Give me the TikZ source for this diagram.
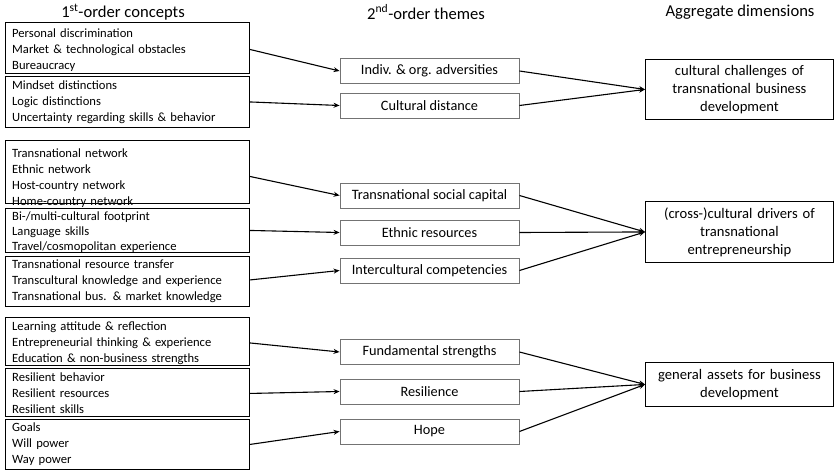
\documentclass[tikz,border=0pt]{standalone}
\usepackage{fontspec}
\setmainfont{Carlito}
\usetikzlibrary{arrows.meta}
\begin{document}
\begin{tikzpicture}[x=1pt,y=-1pt,
  lframe/.style={draw=black, line width=0.9pt, anchor=north west, minimum width=244pt, inner sep=0pt},
  ltext/.style={anchor=base west, text width=236pt, align=left, inner sep=0pt, font=\fontsize{12.6}{16}\selectfont},
  mbox/.style={draw=black!55, line width=0.9pt, minimum width=179pt, minimum height=25pt, inner sep=0pt, font=\fontsize{14.3}{17}\selectfont},
  rbox/.style={draw=black, line width=0.9pt, anchor=north west, minimum width=188pt, text width=184pt, align=center, inner sep=0pt, font=\fontsize{14.6}{18}\selectfont},
  title/.style={font=\fontsize{16.6}{19}\selectfont, inner sep=0pt},
  arr/.style={line width=1.1pt, -{Stealth[length=6pt,width=5pt]}}]
\useasboundingbox (0,0) rectangle (834,470);
% titles
\node[title] (t1) at (123,12) {1\textsuperscript{st}-order concepts};
\node[title] (t2) at (426,12) {2\textsuperscript{nd}-order themes};
\node[title] (t3) at (740,12) {Aggregate dimensions};
% left frames
\node[lframe, minimum height=51pt] (a1) at (5,22) {};
\node[lframe, minimum height=51pt] (a2) at (5,76) {};
\node[lframe, minimum height=63pt] (b1) at (5,140) {};
\node[lframe, minimum height=44pt] (b2) at (5,208) {};
\node[lframe, minimum height=50pt] (b3) at (5,256) {};
\node[lframe, minimum height=48pt] (c1) at (5,317) {};
\node[lframe, minimum height=48pt] (c2) at (5,368) {};
\node[lframe, minimum height=50pt] (c3) at (5,419) {};
% left texts
\node[ltext] (a1t) at (12,38) {Personal discrimination\\Market \& technological obstacles\\Bureaucracy};
\node[ltext] (a2t) at (12,89.5) {Mindset distinctions\\Logic distinctions\\Uncertainty regarding skills \& behavior};
\node[ltext] (b1t) at (12,158) {Transnational network\\Ethnic network\\Host-country network\\Home-country network};
\node[ltext, font=\fontsize{12.6}{15.5}\selectfont] (b2t) at (12,220) {Bi-/multi-cultural footprint\\Language skills\\Travel/cosmopolitan experience};
\node[ltext] (b3t) at (12,268.5) {Transnational resource transfer\\Transcultural knowledge and experience\\Transnational bus. \& market knowledge};
\node[ltext] (c1t) at (12,330) {Learning attitude \& reflection\\Entrepreneurial thinking \& experience\\Education \& non-business strengths};
\node[ltext] (c2t) at (12,381) {Resilient behavior\\Resilient resources\\Resilient skills};
\node[ltext] (c3t) at (12,431) {Goals\\Will power\\Way power};
% middle boxes
\node[mbox] (m1) at (429.5,71) {Indiv. \& org. adversities};
\node[mbox] (m2) at (429.5,105.5) {Cultural distance};
\node[mbox] (m3) at (429.5,195.5) {Transnational social capital};
\node[mbox] (m4) at (429.5,232.5) {Ethnic resources};
\node[mbox] (m5) at (429.5,270.5) {Intercultural competencies};
\node[mbox] (m6) at (429.5,352) {Fundamental strengths};
\node[mbox] (m7) at (429.5,391.5) {Resilience};
\node[mbox] (m8) at (429.5,431.5) {Hope};
% right boxes
\node[rbox, minimum height=60pt] (r1) at (645,59) {cultural challenges of\\transnational business\\development};
\node[rbox, minimum height=61pt] (r2) at (645,201) {(cross-)cultural drivers of\\transnational\\entrepreneurship};
\node[rbox, minimum height=44pt] (r3) at (645,362) {general assets for business\\development};
% connectors
\draw[arr] ([yshift=-1.5pt]a1.east) -- (m1.west);
\draw[arr] (a2.east) -- (m2.west);
\draw[arr] ([yshift=-4.5pt]b1.east) -- (m3.west);
\draw[arr] (b2.east) -- (m4.west);
\draw[arr] ([yshift=1.5pt]b3.east) -- (m5.west);
\draw[arr] ([yshift=-1.5pt]c1.east) -- (m6.west);
\draw[arr] ([yshift=-1pt]c2.east) -- (m7.west);
\draw[arr] (c3.east) -- (m8.west);
\draw[arr] (m1.east) -- (r1.west);
\draw[arr] (m2.east) -- (r1.west);
\draw[arr] (m3.east) -- (r2.west);
\draw[arr] (m4.east) -- (r2.west);
\draw[arr] (m5.east) -- (r2.west);
\draw[arr] (m6.east) -- (r3.west);
\draw[arr] (m7.east) -- (r3.west);
\draw[arr] (m8.east) -- (r3.west);
\end{tikzpicture}
\end{document}
